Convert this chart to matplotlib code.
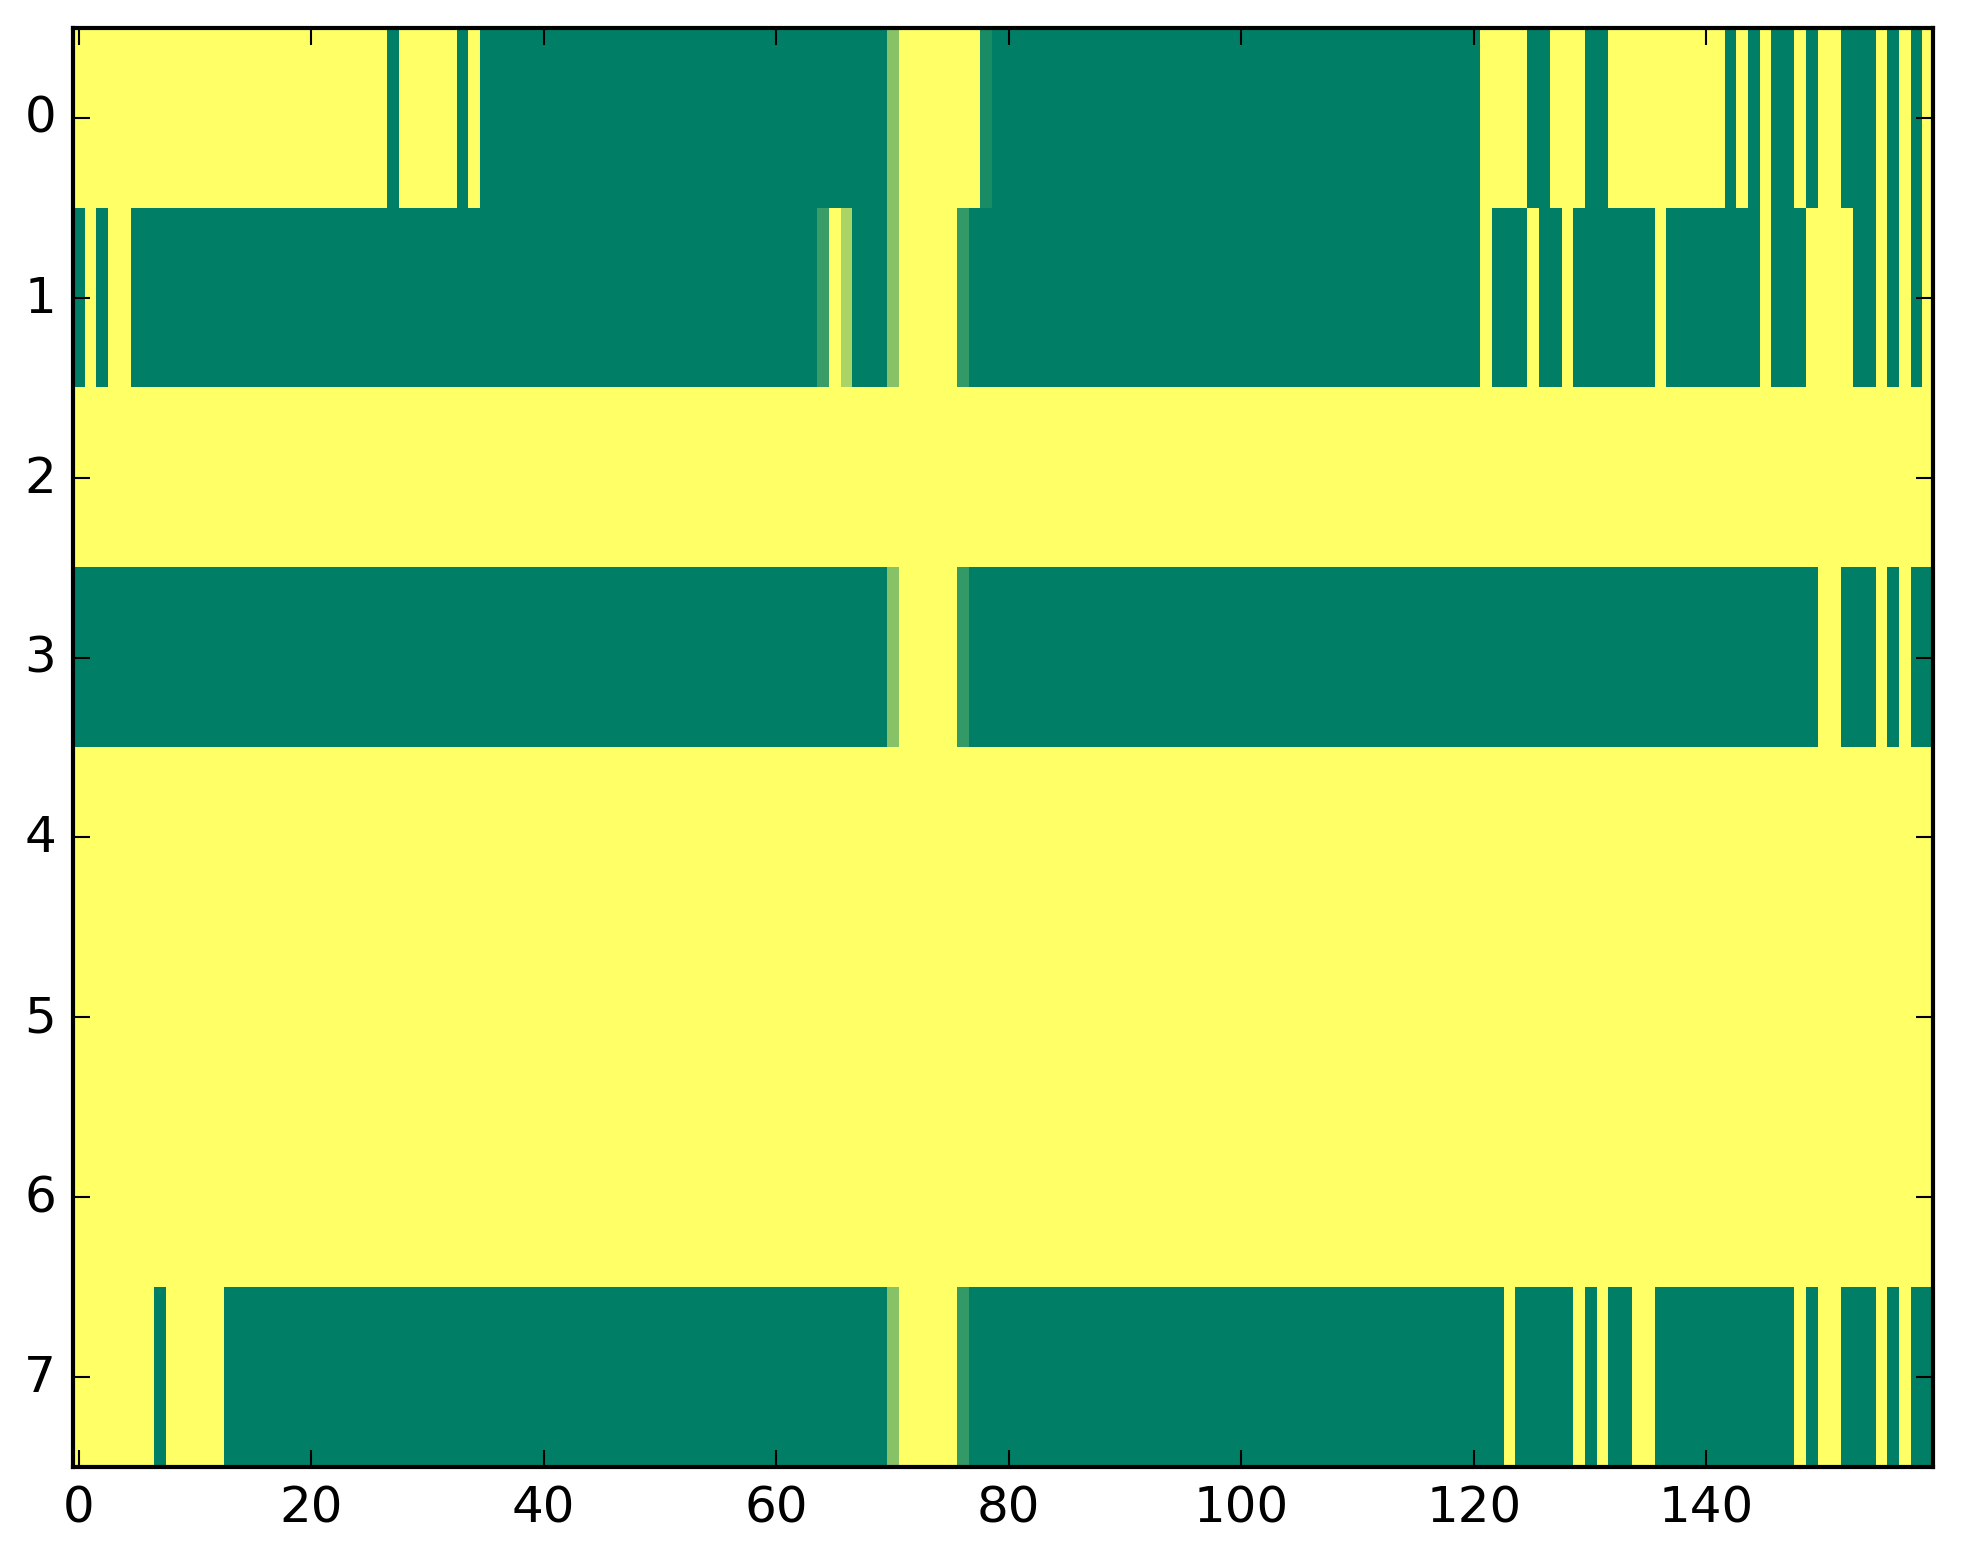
import matplotlib
matplotlib.use("Agg")
import matplotlib.pyplot as plt
import numpy as np

plt.style.use('classic')

# each row given as runs of (value, number of columns), 160 columns in total
row0 = [(1, 27), (0, 1), (1, 5), (0, 1), (1, 1), (0, 35), (0.53, 1), (1, 7), (0.1, 1),
        (0, 42), (1, 4), (0, 2), (1, 3), (0, 2), (1, 10), (0, 1), (1, 1), (0, 1), (1, 1),
        (0, 2), (1, 1), (0, 1), (1, 2), (0, 3), (1, 1), (0, 1), (1, 1), (0, 1), (1, 1)]
row1 = [(0, 1), (1, 1), (0, 1), (1, 2), (0, 59), (0.23, 1), (1, 1), (0.67, 1), (0, 3),
        (0.53, 1), (1, 5), (0.2, 1), (0, 44), (1, 1), (0, 3), (1, 1), (0, 2), (1, 1),
        (0, 7), (1, 1), (0, 8), (1, 1), (0, 3), (1, 4), (0, 2), (1, 1), (0, 1), (1, 1),
        (0, 1), (1, 1)]
row2 = [(1, 160)]
row3 = [(0, 70), (0.53, 1), (1, 5), (0.2, 1), (0, 73), (1, 2), (0, 3), (1, 1), (0, 1),
        (1, 1), (0, 2)]
row4 = [(1, 160)]
row5 = [(1, 160)]
row6 = [(1, 160)]
row7 = [(1, 7), (0, 1), (1, 5), (0, 57), (0.53, 1), (1, 5), (0.2, 1), (0, 46), (1, 1),
        (0, 5), (1, 1), (0, 1), (1, 1), (0, 2), (1, 2), (0, 12), (1, 1), (0, 1), (1, 2),
        (0, 3), (1, 1), (0, 1), (1, 1), (0, 2)]

rows = [row0, row1, row2, row3, row4, row5, row6, row7]


def expand(runs):
    out = []
    for val, n in runs:
        out += [val] * n
    return out


data = np.array([expand(r) for r in rows], dtype=float)

W, H = 1963, 1564
fig = plt.figure(figsize=(W / 300, H / 300), dpi=300, facecolor='white')
ax = fig.add_axes([72.7 / W, 1 - 1468 / H, (1933 - 72.7) / W, (1468 - 29) / H])
ax.imshow(data, cmap='summer', aspect='auto', interpolation='nearest', vmin=0, vmax=1)
ax.set_xticks(np.arange(0, 160, 20))
ax.set_yticks(np.arange(0, 8))
ax.set_xlim(-0.5, 159.5)
ax.set_ylim(7.5, -0.5)

fig.savefig('out.png', dpi=300, facecolor='white')
